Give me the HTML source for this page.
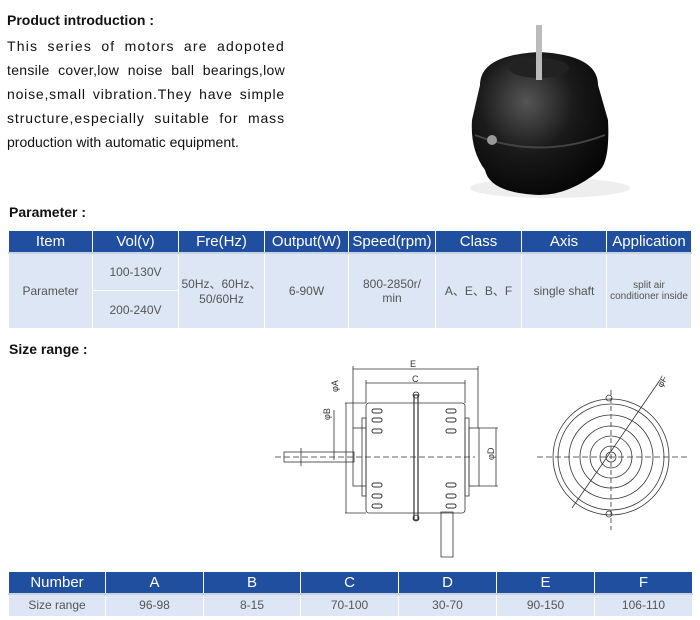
<!DOCTYPE html>
<html><head><style>
body{margin:0;width:700px;height:620px;background:#fff;font-family:"Liberation Sans",sans-serif;position:relative;overflow:hidden}
.t{position:absolute;color:#111}
.j{position:absolute;left:7px;width:278px;font-size:14px;color:#111;text-align:justify;text-align-last:justify;white-space:nowrap;height:24px;line-height:24px}
table{position:absolute;border-collapse:collapse;table-layout:fixed}
td{text-align:center;padding:0;border:1px solid #fff;overflow:hidden}
th{background:#1f4f9e;color:#fff;font-weight:normal;font-size:15px;border:1px solid #fff;border-bottom:2px solid #c8d3e6;padding:0}
td{background:#dce6f4;color:#555;font-size:12px;font-family:"Liberation Sans",sans-serif}
</style></head><body>
<div class="t" style="left:7px;top:12px;font-weight:bold;font-size:14px">Product introduction :</div>
<div class="j" style="top:34px;letter-spacing:1.2px">This series of motors are adopoted</div>
<div class="j" style="top:58px;letter-spacing:0.3px">tensile cover,low noise ball bearings,low</div>
<div class="j" style="top:82px;letter-spacing:0.8px">noise,small vibration.They have simple</div>
<div class="j" style="top:106px;letter-spacing:0.9px">structure,especially suitable for mass</div>
<div class="t" style="left:7px;top:134px;font-size:14px">production with automatic equipment.</div>
<svg style="position:absolute;left:400px;top:10px" width="250" height="195">
<defs><radialGradient id="g" cx="0.4" cy="0.35" r="0.7"><stop offset="0" stop-color="#555"/><stop offset="0.5" stop-color="#1a1a1a"/><stop offset="1" stop-color="#050505"/></radialGradient></defs>
<ellipse cx="150" cy="178" rx="80" ry="10" fill="#eee"/>
<path d="M80 75 Q80 45 139 42 Q198 45 198 75 L208 110 Q210 150 200 160 Q170 185 139 185 Q90 183 85 160 Q70 140 72 110 Z" fill="url(#g)"/>
<ellipse cx="139" cy="58" rx="30" ry="10" fill="#222"/>
<rect x="136" y="15" width="6" height="55" fill="#bbb"/>
<path d="M75 125 Q139 150 205 125" stroke="#444" stroke-width="2" fill="none"/>
<circle cx="92" cy="130" r="5" fill="#999"/>
</svg>
<div class="t" style="left:9px;top:204px;font-weight:bold;font-size:14px">Parameter :</div>
<table style="left:8px;top:230px;width:683px">
<colgroup><col style="width:84px"><col style="width:86px"><col style="width:86px"><col style="width:84px"><col style="width:87px"><col style="width:86px"><col style="width:85px"><col style="width:85px"></colgroup>
<tr style="height:22px"><th>Item</th><th>Vol(v)</th><th>Fre(Hz)</th><th>Output(W)</th><th>Speed(rpm)</th><th>Class</th><th>Axis</th><th>Application</th></tr>
<tr style="height:38px"><td rowspan="2">Parameter</td><td>100-130V</td><td rowspan="2">50Hz、60Hz、<br>50/60Hz</td><td rowspan="2">6-90W</td><td rowspan="2">800-2850r/<br>min</td><td rowspan="2">A、E、B、F</td><td rowspan="2" style="white-space:nowrap">single shaft</td><td rowspan="2" style="font-size:10px">split air<br>conditioner inside</td></tr>
<tr style="height:38px"><td>200-240V</td></tr>
</table>
<div class="t" style="left:9px;top:341px;font-weight:bold;font-size:14px">Size range :</div>
<svg style="position:absolute;left:0;top:340px" width="700" height="230" fill="none" stroke="#333" stroke-width="0.8">
<g transform="translate(0,-340)">
<line x1="275" y1="457" x2="475" y2="457" stroke-dasharray="6,3"/>
<line x1="537" y1="457" x2="690" y2="457" stroke-dasharray="6,3"/>
<rect x="366" y="403" width="99" height="110" rx="3"/>
<rect x="353" y="428" width="13" height="58"/>
<rect x="362" y="418" width="4" height="78"/>
<rect x="465" y="418" width="4" height="78"/>
<rect x="469" y="428" width="10" height="58"/>
<rect x="284" y="452" width="70" height="10"/>
<line x1="301" y1="448" x2="301" y2="466"/>
<line x1="353" y1="366" x2="353" y2="428"/><line x1="478" y1="366" x2="478" y2="428"/>
<line x1="353" y1="369" x2="478" y2="369"/><line x1="366" y1="383" x2="465" y2="383"/>
<line x1="366" y1="380" x2="366" y2="403"/><line x1="465" y1="380" x2="465" y2="403"/>
<line x1="345" y1="403" x2="366" y2="403"/><line x1="345" y1="513" x2="366" y2="513"/>
<line x1="346" y1="403" x2="346" y2="513"/>
<line x1="334" y1="410" x2="334" y2="460"/>
<line x1="479" y1="428" x2="498" y2="428"/><line x1="479" y1="486" x2="498" y2="486"/><line x1="496" y1="428" x2="496" y2="486"/>
<rect x="414" y="395" width="4" height="125" stroke-width="1.2"/>
<circle cx="416" cy="395" r="3"/><circle cx="416" cy="518" r="3"/>
<path d="M441 512 l0 45 l12 0 l0-45 z"/>
<g stroke-width="1">
<rect x="372" y="409" width="10" height="4" rx="2"/><rect x="372" y="418" width="10" height="4" rx="2"/><rect x="372" y="429" width="10" height="4" rx="2"/>
<rect x="372" y="483" width="10" height="4" rx="2"/><rect x="372" y="494" width="10" height="4" rx="2"/><rect x="372" y="504" width="10" height="4" rx="2"/>
<rect x="446" y="409" width="10" height="4" rx="2"/><rect x="446" y="418" width="10" height="4" rx="2"/><rect x="446" y="429" width="10" height="4" rx="2"/>
<rect x="446" y="483" width="10" height="4" rx="2"/><rect x="446" y="494" width="10" height="4" rx="2"/><rect x="446" y="504" width="10" height="4" rx="2"/>
</g>
<circle cx="611" cy="457" r="58"/><circle cx="611" cy="457" r="53"/>
<circle cx="611" cy="457" r="42"/><circle cx="611" cy="457" r="31"/><circle cx="611" cy="457" r="21"/><circle cx="611" cy="457" r="11"/><circle cx="611" cy="457" r="5"/>
<line x1="611" y1="390" x2="611" y2="530" stroke-dasharray="5,3"/>
<line x1="572" y1="508" x2="660" y2="380"/>
<circle cx="609" cy="398" r="3"/><circle cx="609" cy="514" r="3"/>
</g>
<g stroke="none" fill="#333" font-size="9">
<text x="410" y="27">E</text><text x="412" y="42">C</text>
<text x="338" y="52" transform="rotate(-90 338 52)">φA</text>
<text x="330" y="80" transform="rotate(-90 330 80)">φB</text>
<text x="494" y="120" transform="rotate(-90 494 120)">φD</text>
<text x="662" y="48" transform="rotate(-60 662 48)">φF</text>
</g>
</svg>
<table style="left:8px;top:571px;width:684px">
<colgroup><col style="width:97px"><col style="width:98px"><col style="width:97px"><col style="width:98px"><col style="width:98px"><col style="width:98px"><col style="width:98px"></colgroup>
<tr style="height:22px"><th>Number</th><th>A</th><th>B</th><th>C</th><th>D</th><th>E</th><th>F</th></tr>
<tr style="height:23px"><td>Size range</td><td>96-98</td><td>8-15</td><td>70-100</td><td>30-70</td><td>90-150</td><td>106-110</td></tr>
</table>
</body></html>
